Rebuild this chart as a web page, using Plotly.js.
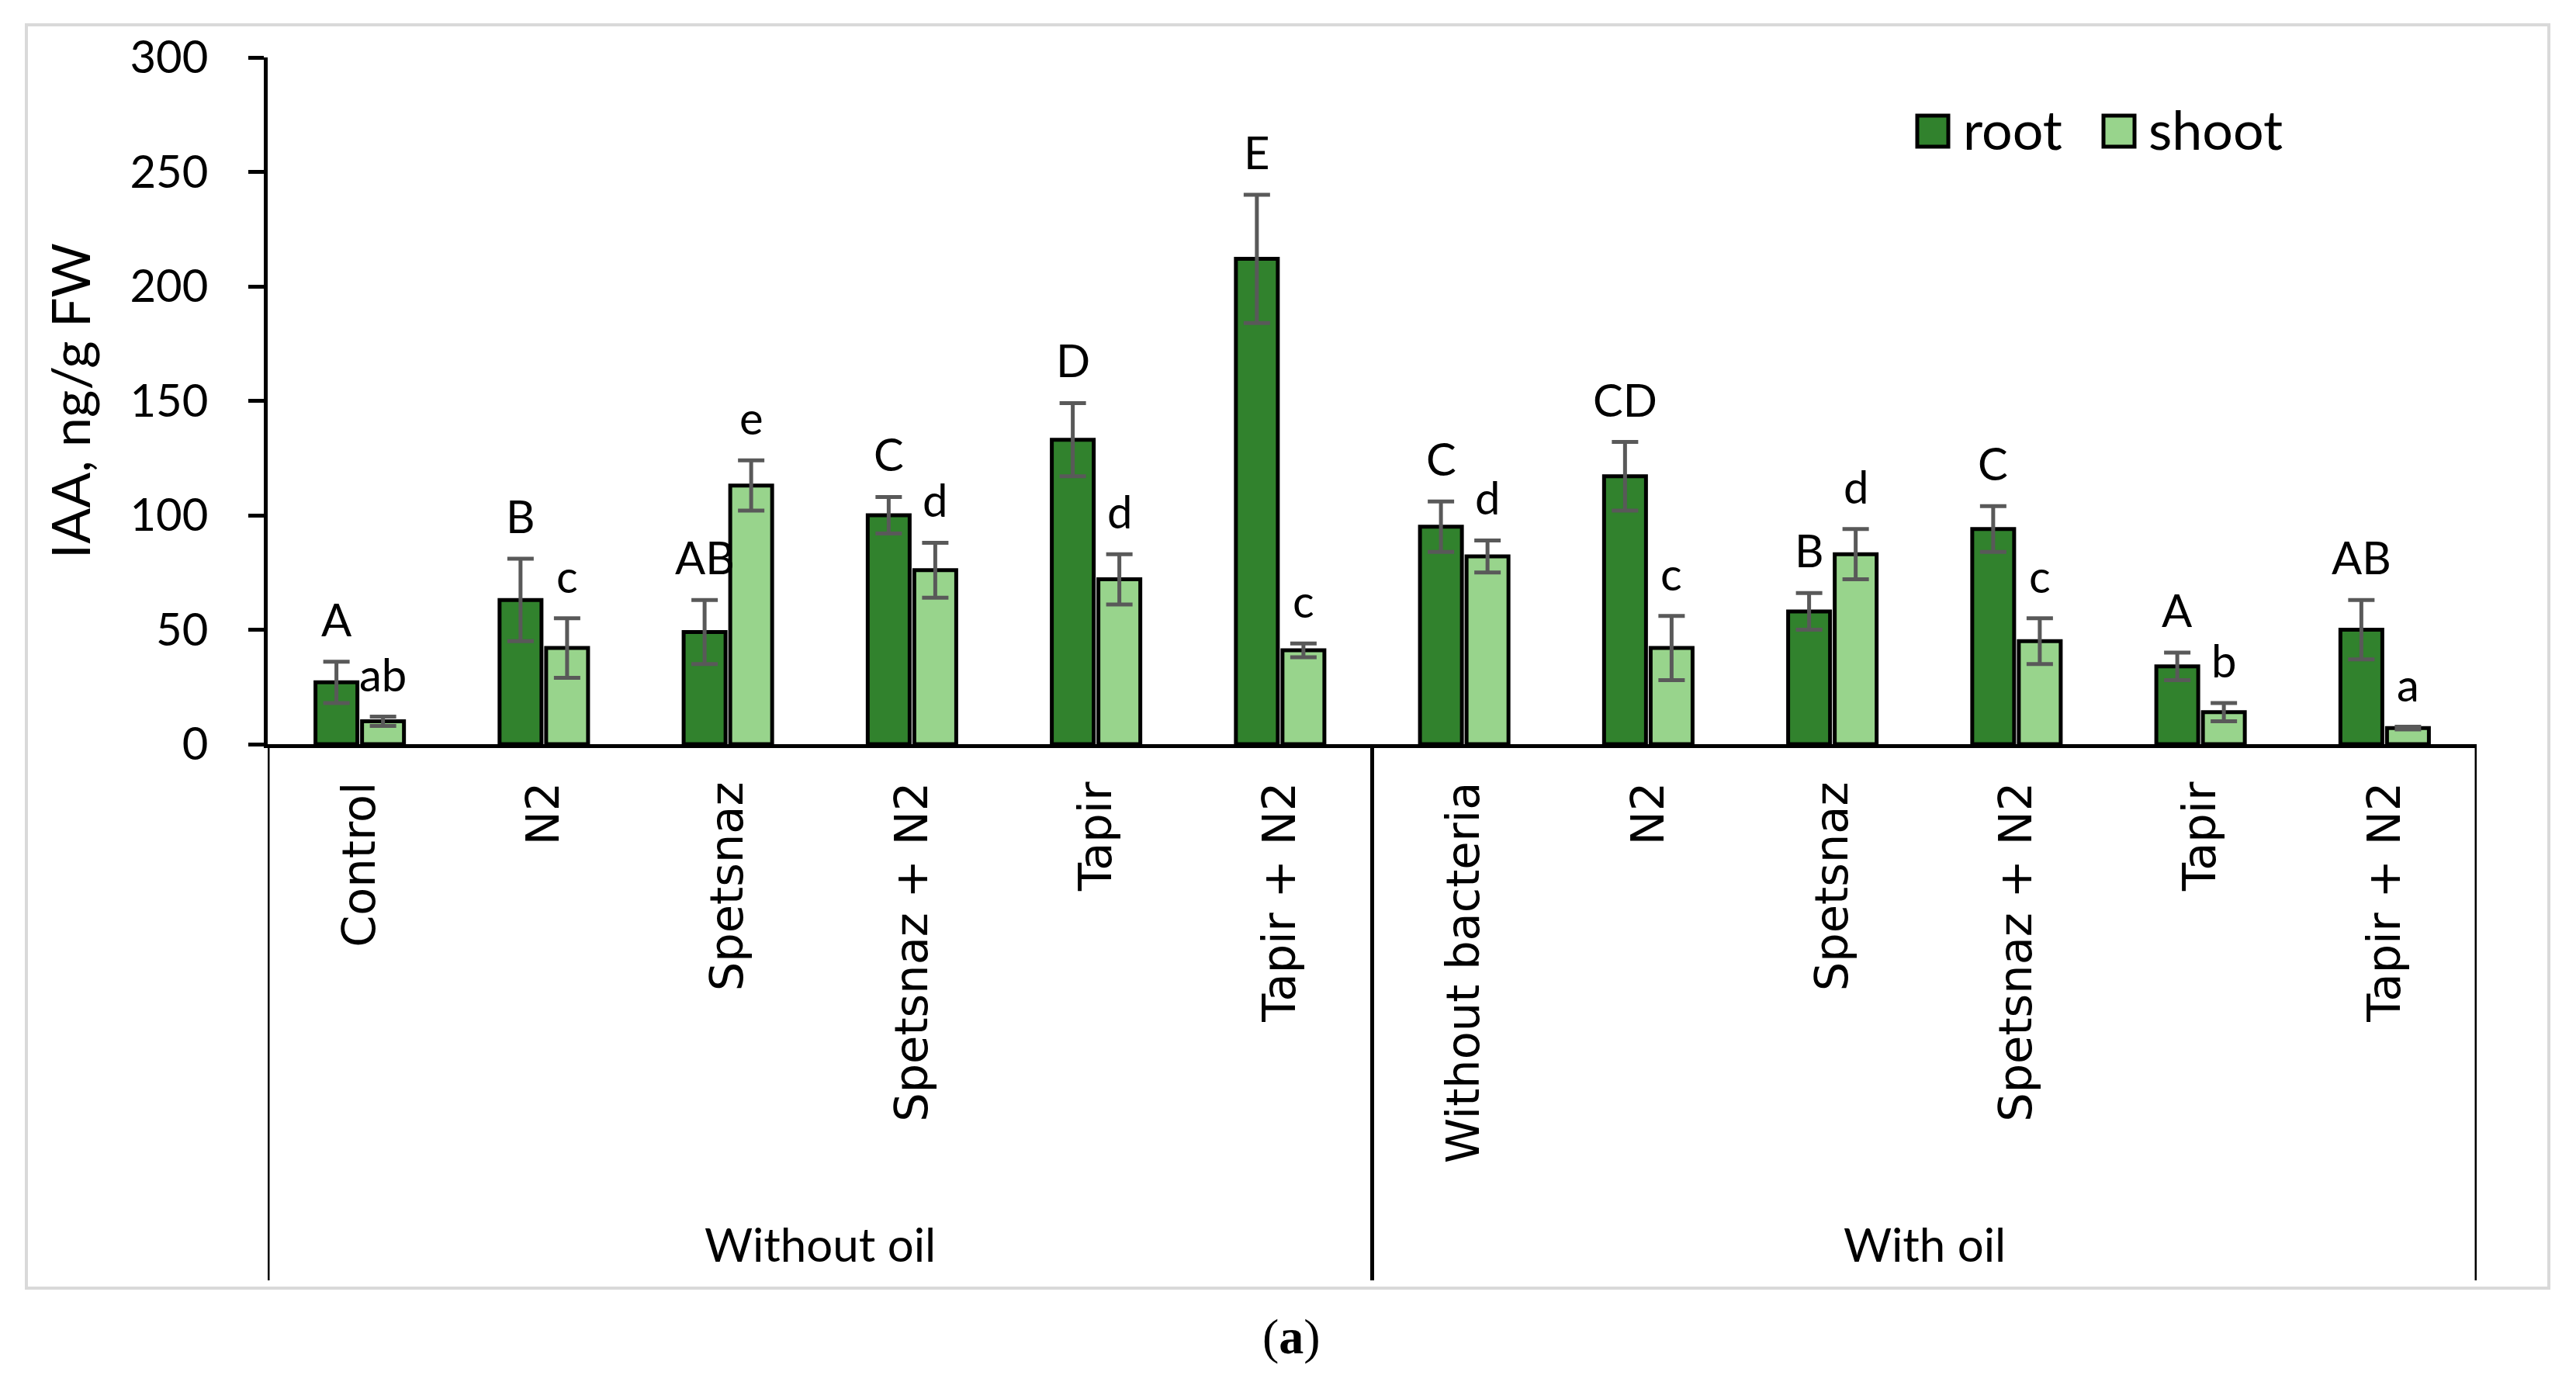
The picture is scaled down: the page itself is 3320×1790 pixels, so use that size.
<!DOCTYPE html>
<html>
<head>
<meta charset="utf-8">
<script src="https://cdn.plot.ly/plotly-3.0.1.min.js"></script>
<style>html,body{margin:0;padding:0;background:#fff;}#chart{width:3320px;height:1790px;}</style>
</head>
<body>
<div id="chart"></div>
<script>
// ---- data ----
const categories = ["Control","N2","Spetsnaz","Spetsnaz + N2","Tapir","Tapir + N2",
                    "Without bacteria","N2","Spetsnaz","Spetsnaz + N2","Tapir","Tapir + N2"];
const groups = ["Without oil","With oil"];
const rootValues  = [27, 63, 49, 100, 133, 212, 95, 117, 58, 94, 34, 50];
const rootErrors  = [9, 18, 14, 8, 16, 28, 11, 15, 8, 10, 6, 13];
const shootValues = [10, 42, 113, 76, 72, 41, 82, 42, 83, 45, 14, 7];
const shootErrors = [2, 13, 11, 12, 11, 3, 7, 14, 11, 10, 4, 0.6];
const rootLetters  = ["A","B","AB","C","D","E","C","CD","B","C","A","AB"];
const shootLetters = ["ab","c","e","d","d","c","d","c","d","c","b","a"];
const yTicks = [0, 50, 100, 150, 200, 250, 300];

// ---- layout helpers (pixel -> paper) ----
const L = 345, R = 3192, T = 74, B = 959;
const W = R - L, H = B - T;
const px = x => (x - L) / W;
const py = y => (B - y) / H;

const rootColor = '#31822d', shootColor = '#98d48c';
const xs = categories.map((_, i) => i);

const errStyle = { color: '#595959', thickness: 5, width: 17 };
const traces = [
  { type: 'bar', name: 'root', x: xs, y: rootValues,
    marker: { color: rootColor, line: { color: '#000', width: 5 } },
    error_y: Object.assign({ type: 'data', array: rootErrors, visible: true }, errStyle),
    showlegend: false },
  { type: 'bar', name: 'shoot', x: xs, y: shootValues,
    marker: { color: shootColor, line: { color: '#000', width: 5 } },
    error_y: Object.assign({ type: 'data', array: shootErrors, visible: true }, errStyle),
    showlegend: false }
];

const bargap = 0.494;
const off = (1 - bargap) / 4;
const letterFont = { family: 'Lato, sans-serif', size: 58, color: '#000' };
const annotations = [];
rootValues.forEach((v, i) => annotations.push({
  x: i - off, y: v + rootErrors[i], xref: 'x', yref: 'y', text: rootLetters[i],
  showarrow: false, yanchor: 'bottom', xanchor: 'center', yshift: 19, font: letterFont }));
shootValues.forEach((v, i) => annotations.push({
  x: i + off, y: v + shootErrors[i], xref: 'x', yref: 'y', text: shootLetters[i],
  showarrow: false, yanchor: 'bottom', xanchor: 'center', yshift: 19, font: letterFont }));

// group labels
groups.forEach((g, k) => annotations.push({
  x: k * 6 + 2.5, y: py(1603), xref: 'x', yref: 'paper', text: g, showarrow: false,
  xanchor: 'center', yanchor: 'middle', font: { family: 'Lato, sans-serif', size: 60, color: '#000' } }));

// caption
annotations.push({ x: px(1664), y: py(1722), xref: 'paper', yref: 'paper', text: '(<b>a</b>)',
  showarrow: false, xanchor: 'center', yanchor: 'middle',
  font: { family: 'Liberation Serif, serif', size: 64, color: '#000' } });

// legend texts
const legFont = { family: 'Lato, sans-serif', size: 70, color: '#000' };
annotations.push({ x: px(2528), y: py(166), xref: 'paper', yref: 'paper', text: 'root', showarrow: false,
  xanchor: 'left', yanchor: 'middle', font: legFont });
annotations.push({ x: px(2767), y: py(166), xref: 'paper', yref: 'paper', text: 'shoot', showarrow: false,
  xanchor: 'left', yanchor: 'middle', font: legFont });

const shapes = [
  // outer light frame
  { type: 'rect', xref: 'paper', yref: 'paper', x0: px(34), x1: px(3285), y0: py(1660), y1: py(32),
    line: { color: '#d9d9d9', width: 4 }, fillcolor: 'rgba(0,0,0,0)', layer: 'below' },
  // legend swatches
  { type: 'rect', xref: 'paper', yref: 'paper', x0: px(2471), x1: px(2511), y0: py(189), y1: py(149),
    line: { color: '#000', width: 5 }, fillcolor: rootColor },
  { type: 'rect', xref: 'paper', yref: 'paper', x0: px(2711), x1: px(2751), y0: py(189), y1: py(149),
    line: { color: '#000', width: 5 }, fillcolor: shootColor }
];
// group separators (multi-level category axis lines)
[-0.5, 5.5, 11.5].forEach(x => shapes.push({ type: 'line', xref: 'x', yref: 'paper',
  x0: x, x1: x, y0: 0, y1: py(1650), line: { color: '#000', width: 5 } }));

const layout = {
  width: 3320, height: 1790,
  margin: { l: L, r: 3320 - R, t: T, b: 1790 - B },
  paper_bgcolor: '#fff', plot_bgcolor: '#fff',
  barmode: 'group', bargap: bargap, bargroupgap: 0.1,
  showlegend: false,
  xaxis: { range: [-0.5, 11.5], tickvals: xs, ticktext: categories, tickangle: -90,
    showgrid: false, zeroline: false, showline: true, linecolor: '#000', linewidth: 5,
    ticks: '', ticklabelstandoff: 20,
    tickfont: { family: 'DejaVu Sans, sans-serif', size: 59, color: '#000' } },
  yaxis: { range: [0, 300], tickvals: yTicks, showgrid: false, zeroline: false,
    showline: true, linecolor: '#000', linewidth: 5, ticks: 'outside', ticklen: 20, tickwidth: 5,
    tickcolor: '#000', ticklabelstandoff: 40,
    tickfont: { family: 'Lato, sans-serif', size: 58, color: '#000' },
    title: { text: 'IAA, ng/g FW', standoff: 30, font: { family: 'Lato, sans-serif', size: 68, color: '#000' } } },
  annotations: annotations,
  shapes: shapes
};

Plotly.newPlot('chart', traces, layout, { staticPlot: true });
</script>
</body>
</html>
